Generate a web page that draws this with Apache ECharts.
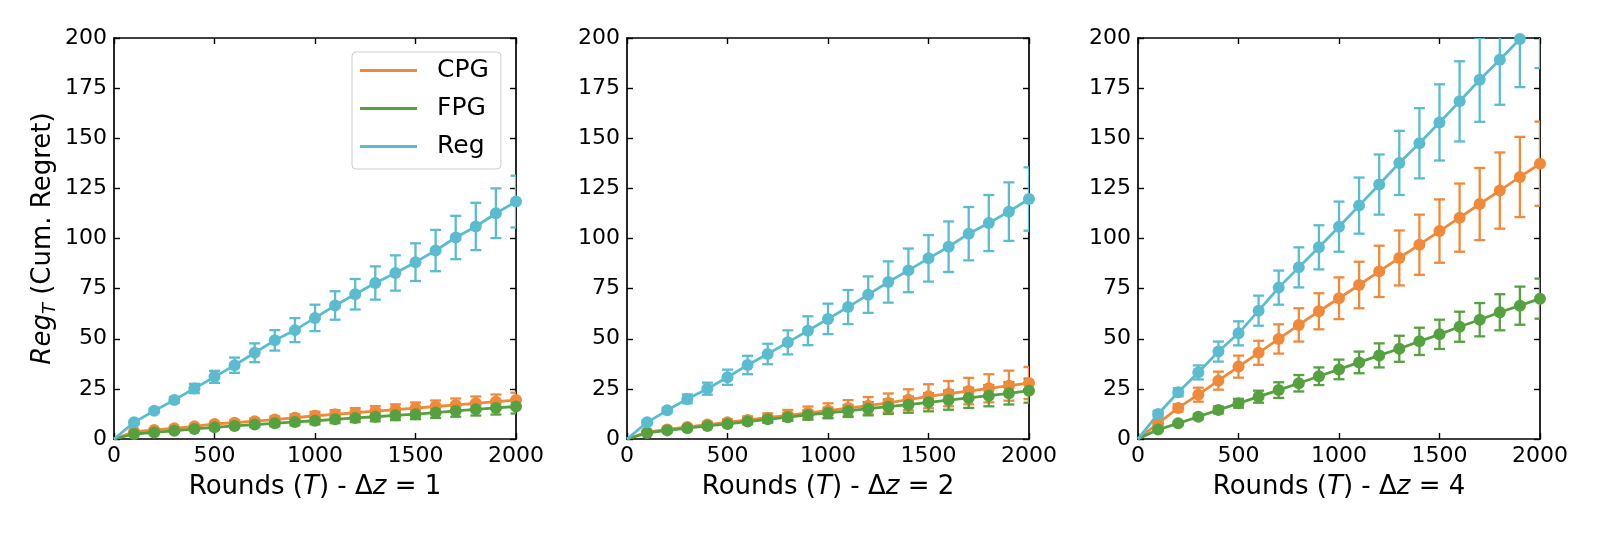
<!DOCTYPE html>
<html>
<head>
<meta charset="utf-8">
<script src="https://cdn.jsdelivr.net/npm/echarts@6/dist/echarts.min.js"></script>
<style>
  html, body { margin: 0; padding: 0; background: #fff; }
  #chart { width: 1600px; height: 533px; }
</style>
</head>
<body>
<div id="chart"></div>
<script>
// rounds T
const rounds = [0, 100, 200, 300, 400, 500, 600, 700, 800, 900, 1000, 1100, 1200, 1300, 1400, 1500, 1600, 1700, 1800, 1900, 2000];
const xTicks = [0, 500, 1000, 1500, 2000];
const yTicks = [0, 25, 50, 75, 100, 125, 150, 175, 200];
const methods = ['CPG', 'FPG', 'Reg'];
const deltaZ = [1, 2, 4];

// Δz = 1
const cpg1    = [0, 3.6, 4.5, 5.3, 6.3, 7.5, 8.1, 8.9, 9.7, 10.6, 11.6, 12.3, 13.1, 13.9, 14.6, 15.4, 16.2, 17.0, 17.8, 18.6, 19.4];
const cpgErr1 = [0, 0.4, 0.5, 0.7, 0.8, 1.0, 1.1, 1.3, 1.5, 1.7, 2.0, 2.1, 2.3, 2.5, 2.7, 2.8, 3.0, 3.2, 3.4, 3.6, 3.7];
const fpg1    = [0, 2.5, 3.3, 4.1, 5.0, 5.8, 6.5, 7.2, 7.8, 8.5, 9.1, 9.8, 10.5, 11.1, 11.8, 12.4, 13.2, 14.0, 14.8, 15.5, 16.2];
const fpgErr1 = [0, 0.3, 0.4, 0.5, 0.7, 0.9, 1.0, 1.2, 1.4, 1.6, 1.8, 1.9, 2.1, 2.3, 2.4, 2.5, 2.7, 2.9, 3.1, 3.3, 3.5];
const reg1    = [0, 8.3, 14.1, 19.5, 25.2, 31.0, 36.8, 43.0, 49.2, 54.3, 60.4, 66.6, 72.2, 77.8, 82.8, 88.2, 94.0, 100.5, 106.0, 112.6, 118.4];
const regErr1 = [0, 0.8, 1.0, 1.5, 2.3, 3.0, 3.8, 4.7, 5.1, 6.0, 6.6, 7.1, 7.6, 8.3, 8.8, 9.4, 10.3, 10.8, 11.8, 12.4, 12.9];

// Δz = 2
const cpg2    = [0, 3.4, 4.8, 6.0, 7.2, 8.3, 9.5, 10.6, 11.8, 13.0, 14.1, 15.4, 16.6, 18.0, 19.6, 21.3, 22.6, 23.9, 25.3, 26.6, 27.9];
const cpgErr2 = [0, 0.5, 0.7, 1.0, 1.2, 1.5, 1.8, 2.2, 2.7, 3.2, 3.7, 4.0, 4.3, 4.7, 5.2, 6.0, 6.3, 6.6, 7.0, 7.5, 8.0];
const fpg2    = [0, 3.0, 4.3, 5.4, 6.5, 7.5, 8.7, 9.8, 10.9, 12.0, 13.0, 14.0, 15.1, 16.1, 17.1, 18.3, 19.4, 20.5, 21.6, 22.8, 24.1];
const fpgErr2 = [0, 0.3, 0.5, 0.7, 0.9, 1.1, 1.3, 1.6, 1.9, 2.3, 2.6, 3.0, 3.3, 3.6, 4.0, 4.5, 4.8, 5.0, 5.3, 5.6, 6.0];
const reg2    = [0, 8.3, 14.3, 20.0, 25.1, 30.8, 36.9, 42.4, 48.2, 54.0, 59.9, 65.8, 72.0, 78.3, 84.1, 90.1, 95.9, 102.4, 107.7, 113.4, 119.7];
const regErr2 = [0, 0.8, 1.2, 2.2, 3.0, 3.8, 4.6, 5.1, 6.0, 7.2, 7.6, 8.5, 9.1, 10.3, 10.9, 11.6, 12.6, 13.3, 14.0, 14.6, 15.8];

// Δz = 4
const cpg3    = [0, 7.8, 15.5, 22.1, 29.1, 36.1, 43.0, 49.9, 56.9, 63.7, 70.2, 76.8, 83.6, 90.3, 96.9, 103.7, 110.4, 117.2, 123.9, 130.7, 137.3];
const cpgErr3 = [0, 1.0, 1.8, 3.5, 4.5, 5.5, 6.0, 7.3, 8.3, 9.0, 10.4, 11.6, 12.8, 13.7, 15.0, 15.8, 17.0, 18.0, 19.0, 20.0, 21.0];
const fpg3    = [0, 4.7, 7.8, 11.1, 14.5, 17.8, 21.1, 24.4, 27.8, 31.3, 34.7, 38.2, 41.7, 45.0, 48.7, 52.2, 56.0, 59.5, 63.2, 66.5, 70.0];
const fpgErr3 = [0, 0.5, 0.8, 1.2, 1.7, 2.2, 3.0, 3.9, 4.1, 4.4, 4.9, 5.4, 6.0, 6.5, 6.8, 7.3, 7.5, 8.3, 9.0, 9.5, 10.0];
const reg3    = [0, 12.5, 23.3, 33.2, 43.6, 52.7, 64.0, 75.5, 85.6, 95.6, 105.9, 116.4, 126.9, 137.7, 147.5, 157.9, 168.4, 179.2, 189.2, 199.5, 210.0];
const regErr3 = [0, 1.5, 2.0, 3.5, 5.0, 6.0, 7.5, 8.5, 10.0, 11.0, 12.5, 14.0, 15.0, 16.0, 17.5, 19.0, 20.0, 21.0, 22.5, 24.0, 25.0];

const FONT = 'DejaVu Sans';
const COLORS = { CPG: '#f08a3a', FPG: '#55a13f', Reg: '#5bbcd0' };

const panelData = [
  { CPG: [cpg1, cpgErr1], FPG: [fpg1, fpgErr1], Reg: [reg1, regErr1] },
  { CPG: [cpg2, cpgErr2], FPG: [fpg2, fpgErr2], Reg: [reg2, regErr2] },
  { CPG: [cpg3, cpgErr3], FPG: [fpg3, fpgErr3], Reg: [reg3, regErr3] }
];
const gridLeft = [114, 627, 1138];

const chart = echarts.init(document.getElementById('chart'));

const grids = [], xAxes = [], yAxes = [], series = [];

gridLeft.forEach((left, p) => {
  grids.push({ left: left, top: 38, width: 402, height: 401, containLabel: false });

  const tick = { show: true, inside: true, length: 6, lineStyle: { color: '#000', width: 1.4 } };
  const line = { show: true, onZero: false, lineStyle: { color: '#000', width: 1.7 } };
  const xBase = { type: 'value', gridIndex: p, min: 0, max: 2000, interval: 500, splitLine: { show: false } };
  const yBase = { type: 'value', gridIndex: p, min: 0, max: 200, interval: 25, splitLine: { show: false } };

  xAxes.push(Object.assign({}, xBase, {
    position: 'bottom', axisLine: line, axisTick: tick,
    axisLabel: { color: '#000', fontFamily: FONT, fontSize: 22, margin: 6,
      showMinLabel: true, showMaxLabel: true,
      formatter: v => xTicks.includes(v) ? String(v) : '' },
    name: '{n|Rounds (}{i|T}{n|) - Δ}{i|z}{n| = ' + deltaZ[p] + '}',
    nameLocation: 'middle', nameGap: 35,
    nameTextStyle: { color: '#000', fontFamily: FONT, fontSize: 26,
      rich: { n: { fontFamily: FONT, fontSize: 26, color: '#000' },
              i: { fontFamily: FONT, fontSize: 26, fontStyle: 'italic', color: '#000' } } }
  }));
  xAxes.push(Object.assign({}, xBase, {
    position: 'top', axisLine: line, axisTick: tick, axisLabel: { show: false }
  }));

  const yLeft = Object.assign({}, yBase, {
    position: 'left', axisLine: line, axisTick: tick,
    axisLabel: { color: '#000', fontFamily: FONT, fontSize: 22, margin: 7,
      showMinLabel: true, showMaxLabel: true,
      formatter: v => yTicks.includes(v) ? String(v) : '' }
  });
  if (p === 0) {
    Object.assign(yLeft, {
      name: '{i|Reg}{s|T}{n| (Cum. Regret)}',
      nameLocation: 'middle', nameGap: 55,
      nameTextStyle: { color: '#000', fontFamily: FONT, fontSize: 26,
        rich: { n: { fontFamily: FONT, fontSize: 26, color: '#000', lineHeight: 31 },
                i: { fontFamily: FONT, fontSize: 26, fontStyle: 'italic', color: '#000', lineHeight: 31 },
                s: { fontFamily: FONT, fontSize: 18, fontStyle: 'italic', color: '#000',
                     lineHeight: 14, verticalAlign: 'bottom' } } }
    });
  }
  yAxes.push(yLeft);
  yAxes.push(Object.assign({}, yBase, {
    position: 'right', axisLine: line, axisTick: tick, axisLabel: { show: false }
  }));

  methods.forEach(m => {
    const [vals, errs] = panelData[p][m];
    const color = COLORS[m];
    const barData = rounds.slice(1).map((t, i) => [t, vals[i + 1] - errs[i + 1], vals[i + 1] + errs[i + 1]]);

    series.push({
      type: 'custom',
      name: m + ' err',
      xAxisIndex: p * 2,
      yAxisIndex: p * 2,
      clip: true,
      silent: true,
      data: barData,
      encode: { x: 0, y: [1, 2] },
      renderItem: (params, api) => {
        const x = api.value(0);
        const lo = api.coord([x, api.value(1)]);
        const hi = api.coord([x, api.value(2)]);
        const cap = 5.5;
        const st = { stroke: color, lineWidth: 2.3 };
        return {
          type: 'group',
          children: [
            { type: 'line', shape: { x1: lo[0], y1: lo[1], x2: hi[0], y2: hi[1] }, style: st },
            { type: 'line', shape: { x1: lo[0] - cap, y1: lo[1], x2: lo[0] + cap, y2: lo[1] }, style: st },
            { type: 'line', shape: { x1: hi[0] - cap, y1: hi[1], x2: hi[0] + cap, y2: hi[1] }, style: st }
          ]
        };
      }
    });

    series.push({
      type: 'line',
      name: m,
      xAxisIndex: p * 2,
      yAxisIndex: p * 2,
      clip: true,
      symbol: 'circle',
      symbolSize: 12,
      showAllSymbol: true,
      color: color,
      itemStyle: { color: color },
      lineStyle: { color: color, width: 2.8 },
      emphasis: { disabled: true },
      animation: false,
      data: rounds.map((t, i) => i === 0 ? { value: [t, vals[i]], symbol: 'none' } : [t, vals[i]])
    });
  });
});

chart.setOption({
  animation: false,
  backgroundColor: '#fff',
  grid: grids,
  xAxis: xAxes,
  yAxis: yAxes,
  legend: {
    data: methods,
    orient: 'vertical',
    left: 352,
    top: 52,
    padding: [6, 12, 10, 8],
    itemGap: 13,
    itemWidth: 57,
    itemHeight: 3,
    icon: 'rect',
    backgroundColor: '#fff',
    borderColor: '#cccccc',
    borderWidth: 1,
    borderRadius: 4,
    selectedMode: false,
    formatter: name => '{a|' + name + '}',
    textStyle: {
      color: '#000', fontFamily: FONT, fontSize: 25,
      rich: { a: { fontFamily: FONT, fontSize: 25, color: '#000', lineHeight: 27, padding: [0, 0, 0, 15] } }
    }
  },
  series: series
});

window.onresize = () => chart.resize();
</script>
</body>
</html>
